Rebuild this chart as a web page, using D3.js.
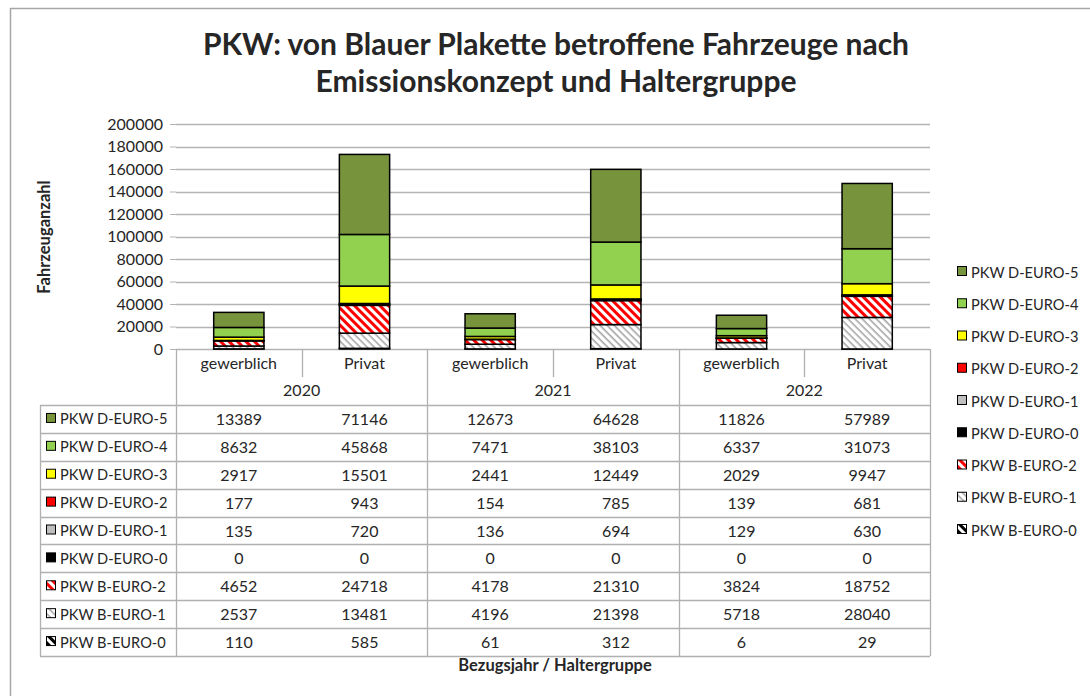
<!DOCTYPE html>
<html>
<head>
<meta charset="utf-8">
<script src="https://cdn.jsdelivr.net/npm/d3@7"></script>
<style>
body { margin: 0; background: #fff; }
text { font-family: Lato, "Open Sans", sans-serif; fill: #262626; }
</style>
</head>
<body>
<svg id="chart" width="1090" height="696"></svg>
<script>
// data
const years = ["2020", "2021", "2022"];
const groups = ["gewerblich", "Privat"];

const dEuro5 = [13389, 71146, 12673, 64628, 11826, 57989];
const dEuro4 = [8632, 45868, 7471, 38103, 6337, 31073];
const dEuro3 = [2917, 15501, 2441, 12449, 2029, 9947];
const dEuro2 = [177, 943, 154, 785, 139, 681];
const dEuro1 = [135, 720, 136, 694, 129, 630];
const dEuro0 = [0, 0, 0, 0, 0, 0];
const bEuro2 = [4652, 24718, 4178, 21310, 3824, 18752];
const bEuro1 = [2537, 13481, 4196, 21398, 5718, 28040];
const bEuro0 = [110, 585, 61, 312, 6, 29];

const seriesNames = ["PKW D-EURO-5", "PKW D-EURO-4", "PKW D-EURO-3", "PKW D-EURO-2",
    "PKW D-EURO-1", "PKW D-EURO-0", "PKW B-EURO-2", "PKW B-EURO-1", "PKW B-EURO-0"];
const seriesValues = [dEuro5, dEuro4, dEuro3, dEuro2, dEuro1, dEuro0, bEuro2, bEuro1, bEuro0];
const yTicks = [0, 20000, 40000, 60000, 80000, 100000, 120000, 140000, 160000, 180000, 200000];

const fills = {
    "PKW D-EURO-5": "#77933c",
    "PKW D-EURO-4": "#92d050",
    "PKW D-EURO-3": "#ffff00",
    "PKW D-EURO-2": "#ff0000",
    "PKW D-EURO-1": "#bfbfbf",
    "PKW D-EURO-0": "#000000",
    "PKW B-EURO-2": "url(#hatchRed)",
    "PKW B-EURO-1": "url(#hatchGray)",
    "PKW B-EURO-0": "url(#hatchBlack)"
};

const svg = d3.select("#chart");
const gridColor = "#b4b4b4";
const tableColor = "#b0b0b0";

// hatch patterns
const defs = svg.append("defs");
function hatch(id, color, period, thick) {
    const p = defs.append("pattern")
        .attr("id", id)
        .attr("patternUnits", "userSpaceOnUse")
        .attr("width", period)
        .attr("height", period)
        .attr("patternTransform", "rotate(45)");
    p.append("rect").attr("width", period).attr("height", period).attr("fill", "#fff");
    p.append("rect").attr("width", period).attr("height", thick).attr("fill", color);
}
hatch("hatchRed", "#ff0000", 6, 3);
hatch("hatchGray", "#a6a6a6", 5, 1.6);
hatch("hatchBlack", "#000000", 6, 3);

// outer frame
svg.append("rect")
    .attr("x", 10.5).attr("y", 8.5)
    .attr("width", 1100).attr("height", 720)
    .attr("fill", "none")
    .attr("stroke", "#a6a6a6")
    .attr("stroke-width", 1.5);

// title
svg.append("text")
    .attr("x", 556).attr("y", 55)
    .attr("text-anchor", "middle")
    .style("font-size", "30px").style("font-weight", "bold")
    .text("PKW: von Blauer Plakette betroffene Fahrzeuge nach");
svg.append("text")
    .attr("x", 556).attr("y", 92)
    .attr("text-anchor", "middle")
    .style("font-size", "30px").style("font-weight", "bold")
    .text("Emissionskonzept und Haltergruppe");

// scales
const columns = years.flatMap(yr => groups.map(g => yr + "|" + g));
const x = d3.scaleBand().domain(columns).range([176, 930]);
const y = d3.scaleLinear().domain([0, 200000]).range([349, 124]);

// gridlines + y axis
const yAxis = svg.append("g")
    .attr("transform", "translate(176,0)")
    .call(d3.axisLeft(y).tickValues(yTicks).tickSize(6).tickPadding(7).tickFormat(d3.format("d")));
yAxis.select(".domain").remove();
yAxis.selectAll(".tick line").attr("stroke", gridColor);
yAxis.selectAll(".tick text").style("font-size", "16px").style("font-family", "Lato, sans-serif").attr("fill", "#262626");

svg.append("g")
    .selectAll("line")
    .data(yTicks)
    .enter().append("line")
    .attr("x1", 176).attr("x2", 930)
    .attr("y1", d => Math.round(y(d)) + 0.5)
    .attr("y2", d => Math.round(y(d)) + 0.5)
    .attr("stroke", gridColor)
    .attr("stroke-width", 1.3);

// y axis title
svg.append("text")
    .attr("transform", "translate(50,237) rotate(-90)")
    .attr("text-anchor", "middle")
    .style("font-size", "16.5px").style("font-weight", "bold")
    .text("Fahrzeuganzahl");

// stacked bars, bottom to top is reverse of the legend order
const rows = columns.map((c, i) => {
    const r = { key: c };
    seriesNames.forEach((s, j) => { r[s] = seriesValues[j][i]; });
    return r;
});
const stackKeys = seriesNames.slice().reverse();
const stacked = d3.stack().keys(stackKeys)(rows);
const barW = x.bandwidth() * 0.4;

svg.append("g")
    .selectAll("g")
    .data(stacked)
    .enter().append("g")
    .attr("fill", d => fills[d.key])
    .selectAll("rect")
    .data(d => d)
    .enter().append("rect")
    .attr("x", d => x(d.data.key) + (x.bandwidth() - barW) / 2)
    .attr("y", d => y(d[1]))
    .attr("width", barW)
    .attr("height", d => y(d[0]) - y(d[1]))
    .attr("stroke", "#000")
    .attr("stroke-width", 1.5);

// data table
const rowY = d3.scaleBand().domain(seriesNames).range([405, 656]);
const table = svg.append("g");
function tline(x1, y1, x2, y2) {
    table.append("line")
        .attr("x1", x1).attr("y1", y1).attr("x2", x2).attr("y2", y2)
        .attr("stroke", tableColor).attr("stroke-width", 1.3);
}
// category row + year row
columns.forEach((c, i) => {
    const xr = x(c) + x.bandwidth();
    if (i % 2 === 0) tline(Math.round(xr) + 0.5, 349, Math.round(xr) + 0.5, 377);
    else tline(Math.round(xr) + 0.5, 349, Math.round(xr) + 0.5, 656);
});
tline(176.5, 349, 176.5, 656);
tline(40.5, 405, 40.5, 656);
seriesNames.forEach(s => tline(40, Math.round(rowY(s)) + 0.5, 930, Math.round(rowY(s)) + 0.5));
tline(40, 656.5, 930, 656.5);

table.selectAll(".cat")
    .data(columns)
    .enter().append("text")
    .attr("x", d => x(d) + x.bandwidth() / 2)
    .attr("y", 369)
    .attr("text-anchor", "middle")
    .style("font-size", "16px")
    .text(d => d.split("|")[1]);

table.selectAll(".year")
    .data(years)
    .enter().append("text")
    .attr("x", d => x(d + "|" + groups[0]) + x.bandwidth())
    .attr("y", 396)
    .attr("text-anchor", "middle")
    .style("font-size", "16px")
    .text(d => d);

seriesNames.forEach((s, j) => {
    const cy = rowY(s) + rowY.bandwidth() / 2;
    table.append("rect")
        .attr("x", 46.5).attr("y", cy - 5.5)
        .attr("width", 9).attr("height", 9)
        .attr("fill", fills[s]).attr("stroke", "#000").attr("stroke-width", 1);
    table.append("text")
        .attr("x", 60).attr("y", cy + 5.5)
        .style("font-size", "14.6px")
        .text(s);
    table.selectAll(null)
        .data(seriesValues[j])
        .enter().append("text")
        .attr("x", (d, i) => x(columns[i]) + x.bandwidth() / 2)
        .attr("y", cy + 6)
        .attr("text-anchor", "middle")
        .style("font-size", "16px")
        .text(d => d);
});

// x axis title
svg.append("text")
    .attr("x", 555).attr("y", 671)
    .attr("text-anchor", "middle")
    .style("font-size", "16.5px").style("font-weight", "bold")
    .text("Bezugsjahr / Haltergruppe");

// legend on the right
const legY = d3.scalePoint().domain(seriesNames).range([272, 530]);
const legend = svg.append("g")
    .selectAll("g")
    .data(seriesNames)
    .enter().append("g")
    .attr("transform", d => "translate(0," + legY(d) + ")");
legend.append("rect")
    .attr("x", 957.5).attr("y", -5.5)
    .attr("width", 9).attr("height", 9)
    .attr("fill", d => fills[d]).attr("stroke", "#000").attr("stroke-width", 1);
legend.append("text")
    .attr("x", 971).attr("y", 5.5)
    .style("font-size", "14.6px")
    .text(d => d);
</script>
</body>
</html>
